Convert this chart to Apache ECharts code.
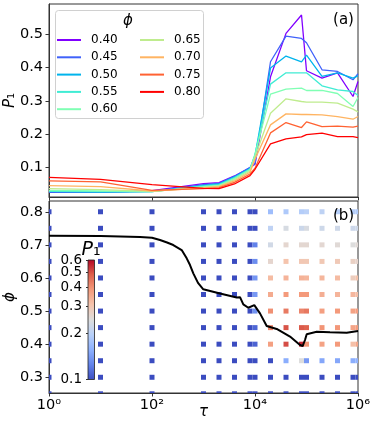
<!DOCTYPE html>
<html><head><meta charset="utf-8">
<script src="https://cdn.jsdelivr.net/npm/echarts@6/dist/echarts.min.js"></script>
<style>html,body{margin:0;padding:0;background:#fff}#c{width:374px;height:427px}</style>
</head><body><div id="c"></div>
<script>
// ---- data ----
const taus = [1, 10, 100, 1000, 2000, 4000, 8000, 1e4, 2e4, 4e4, 8e4, 1e5, 2e5, 4e5, 8e5, 1e6];
const phiLevels = ['0.40', '0.45', '0.50', '0.55', '0.60', '0.65', '0.70', '0.75', '0.80'];
const p040 = [0.026, 0.026, 0.031, 0.052, 0.055, 0.075, 0.100, 0.110, 0.372, 0.502, 0.557, 0.390, 0.368, 0.384, 0.313, 0.358];
const p045 = [0.027, 0.027, 0.029, 0.049, 0.053, 0.074, 0.100, 0.112, 0.417, 0.494, 0.487, 0.474, 0.393, 0.388, 0.363, 0.381];
const p050 = [0.028, 0.027, 0.028, 0.047, 0.051, 0.072, 0.098, 0.135, 0.398, 0.434, 0.417, 0.437, 0.373, 0.384, 0.368, 0.375];
const p055 = [0.029, 0.028, 0.028, 0.045, 0.049, 0.070, 0.096, 0.140, 0.350, 0.384, 0.384, 0.384, 0.345, 0.333, 0.328, 0.316];
const p060 = [0.032, 0.030, 0.028, 0.043, 0.047, 0.067, 0.094, 0.138, 0.320, 0.335, 0.338, 0.331, 0.331, 0.322, 0.283, 0.310];
const p065 = [0.037, 0.034, 0.029, 0.041, 0.045, 0.064, 0.090, 0.132, 0.263, 0.306, 0.298, 0.296, 0.296, 0.293, 0.275, 0.267];
const p070 = [0.046, 0.043, 0.030, 0.039, 0.043, 0.060, 0.086, 0.125, 0.228, 0.261, 0.259, 0.259, 0.258, 0.253, 0.245, 0.253];
const p075 = [0.060, 0.057, 0.032, 0.037, 0.040, 0.056, 0.081, 0.098, 0.204, 0.235, 0.220, 0.237, 0.223, 0.224, 0.221, 0.224];
const p080 = [0.071, 0.065, 0.049, 0.038, 0.037, 0.051, 0.076, 0.095, 0.171, 0.186, 0.192, 0.199, 0.203, 0.193, 0.193, 0.190];
// extra rows only in panel (b)
const p025 = [0.023, 0.023, 0.024, 0.030, 0.035, 0.040, 0.045, 0.050, 0.050, 0.055, 0.060, 0.060, 0.055, 0.055, 0.060, 0.060];
const p030 = [0.024, 0.024, 0.025, 0.035, 0.040, 0.050, 0.060, 0.065, 0.070, 0.075, 0.080, 0.080, 0.075, 0.075, 0.080, 0.080];
const p035 = [0.025, 0.025, 0.026, 0.040, 0.045, 0.060, 0.080, 0.090, 0.100, 0.155, 0.245, 0.140, 0.150, 0.150, 0.155, 0.160];
const gridPhis = [0.25, 0.30, 0.35, 0.40, 0.45, 0.50, 0.55, 0.60, 0.65, 0.70, 0.75, 0.80];
// boundary curve in panel (b)
const boundaryTau = [1, 10, 58.5, 100, 143, 196, 259, 377, 472, 547, 634, 782, 991, 2090, 4414, 5115, 5929, 7413, 9690, 12500, 16870, 26380, 47860, 74820, 84370, 93500, 100900, 157800, 285800, 603900, 1e6];
const boundaryPhi = [0.7275, 0.7265, 0.7235, 0.7215, 0.7146, 0.707, 0.6995, 0.6844, 0.6593, 0.639, 0.614, 0.585, 0.5657, 0.553, 0.541, 0.542, 0.520, 0.510, 0.518, 0.493, 0.455, 0.446, 0.423, 0.3975, 0.3945, 0.4126, 0.4298, 0.4377, 0.436, 0.4347, 0.4398];
// ticks
const xTickExp = [0, 2, 4, 6];
const xTickLabels = ['10⁰', '10²', '10⁴', '10⁶'];
const yTicksA = [0.1, 0.2, 0.3, 0.4, 0.5];
const yTicksB = [0.3, 0.4, 0.5, 0.6, 0.7, 0.8];
const cbTicks = [0.1, 0.2, 0.3, 0.4, 0.5, 0.6];

// ---- styling ----
const FONT = 'DejaVu Sans';
const rainbow = ['#8000ff', '#4062fa', '#00b4ec', '#40ecd4', '#80ffb4', '#bfec8e', '#ffb462', '#ff6232', '#ff0000'];
const coolwarm = ['#3b4cc0', '#6282ea', '#8db0fe', '#b8d0f9', '#dddddd', '#f5c4ad', '#f49a7b', '#de604d', '#b40426'];
const seriesVals = [p040, p045, p050, p055, p060, p065, p070, p075, p080];
const allRows = [p025, p030, p035].concat(seriesVals);
const L = Math.log10;
const cbMin = L(cbTicks[0]), cbMax = L(cbTicks[cbTicks.length - 1]);

const chart = echarts.init(document.getElementById('c'), null, {renderer: 'canvas'});

const series = [];
seriesVals.forEach((vals, i) => {
  series.push({
    type: 'line', name: phiLevels[i], xAxisIndex: 0, yAxisIndex: 0,
    data: taus.map((t, j) => [L(t), vals[j]]),
    symbol: 'none', color: rainbow[i], lineStyle: {width: 1.3, color: rainbow[i]}, z: 3
  });
});
const cells = [];
allRows.forEach((row, r) => {
  row.forEach((v, j) => {
    const lv = Math.min(cbMax, Math.max(cbMin, L(v)));
    cells.push([L(taus[j]), gridPhis[r], lv]);
  });
});
const cellSeriesIndex = series.length;
series.push({
  type: 'custom', xAxisIndex: 1, yAxisIndex: 1, data: cells, encode: {x: 0, y: 1}, z: 2,
  renderItem: function (params, api) {
    const c = api.coord([api.value(0), api.value(1)]);
    const s = 5;
    const cs = params.coordSys;
    const r = echarts.graphic.clipRectByRect({x: c[0] - s / 2, y: c[1] - s / 2, width: s, height: s},
      {x: cs.x, y: cs.y, width: cs.width, height: cs.height});
    if (!r) return;
    return {type: 'rect', shape: r, style: {fill: api.visual('color')}};
  }
});
series.push({
  type: 'line', xAxisIndex: 1, yAxisIndex: 1, data: boundaryTau.map((t, i) => [L(t), boundaryPhi[i]]),
  symbol: 'none', lineStyle: {color: '#000', width: 2}, z: 5, silent: true
});

const axisLineStyle = {show: true, lineStyle: {color: '#333', width: 1}};
const tickStyle = {show: true, length: 3.5, lineStyle: {color: '#333', width: 1}};
const labelStyle = {fontFamily: FONT, fontSize: 14.5, color: '#000'};

// colorbar axes: split tick labels over two axes so none is auto-hidden
function cbAxis(vals) {
  return {type: 'value', gridIndex: 2, min: cbMin, max: cbMax + 1e-6, position: 'left', axisLine: {show: false},
    axisTick: {show: true, length: 2, customValues: vals.map(L), lineStyle: {color: '#333'}},
    axisLabel: {customValues: vals.map(L), margin: 6, hideOverlap: false, showMinLabel: true, showMaxLabel: true,
      formatter: v => Math.pow(10, v).toFixed(1), fontFamily: FONT, fontSize: 13.5, color: '#000'},
    splitLine: {show: false}, z: 6};
}

const option = {
  animation: false,
  grid: [
    {left: 49, top: 4, width: 309, height: 193, show: true, borderColor: '#333', borderWidth: 1, backgroundColor: 'transparent', outerBoundsMode: 'none', containLabel: false},
    {left: 49, top: 201, width: 309, height: 192, show: true, borderColor: '#333', borderWidth: 1, backgroundColor: 'transparent', outerBoundsMode: 'none', containLabel: false},
    {left: 88, top: 260, width: 6.5, height: 119.5, show: true, borderColor: '#222', borderWidth: 0.8, outerBoundsMode: 'none', containLabel: false,
      backgroundColor: new echarts.graphic.LinearGradient(0, 1, 0, 0, coolwarm.map((c, i) => ({offset: i / (coolwarm.length - 1), color: c}))), z: 6}
  ],
  xAxis: [
    {type: 'value', gridIndex: 0, min: 0, max: 6, axisLine: axisLineStyle,
      axisTick: Object.assign({customValues: xTickExp}, tickStyle), axisLabel: {show: false, customValues: xTickExp}, splitLine: {show: false}},
    {type: 'value', gridIndex: 1, min: 0, max: 6, axisLine: axisLineStyle,
      axisTick: Object.assign({customValues: xTickExp}, tickStyle),
      axisLabel: Object.assign({customValues: xTickExp, margin: 5, hideOverlap: false, showMinLabel: true, showMaxLabel: true, formatter: v => xTickLabels[xTickExp.indexOf(Math.round(v))]}, labelStyle),
      splitLine: {show: false},
      name: 'τ', nameLocation: 'middle', nameGap: 12, nameMoveOverlap: false,
      nameTextStyle: {fontFamily: FONT, fontSize: 15, fontStyle: 'italic', color: '#000'}},
    {type: 'value', gridIndex: 2, min: 0, max: 1, show: false}
  ],
  yAxis: [
    {type: 'value', gridIndex: 0, min: 0.012, max: 0.59, axisLine: axisLineStyle,
      axisTick: Object.assign({customValues: yTicksA}, tickStyle),
      axisLabel: Object.assign({customValues: yTicksA, margin: 6, formatter: v => v.toFixed(1)}, labelStyle),
      splitLine: {show: false},
      name: '{i|P}{n|₁}', nameLocation: 'middle', nameGap: 31, nameMoveOverlap: false,
      nameTextStyle: {rich: {i: {fontFamily: FONT, fontSize: 15, fontStyle: 'italic', color: '#000'}, n: {fontFamily: FONT, fontSize: 15, color: '#000'}}}},
    {type: 'value', gridIndex: 1, min: 0.2525, max: 0.8325, axisLine: axisLineStyle,
      axisTick: Object.assign({customValues: yTicksB}, tickStyle),
      axisLabel: Object.assign({customValues: yTicksB, margin: 6, formatter: v => v.toFixed(1)}, labelStyle),
      splitLine: {show: false},
      name: 'ϕ', nameLocation: 'middle', nameGap: 31, nameMoveOverlap: false,
      nameTextStyle: {fontFamily: FONT, fontSize: 15, fontStyle: 'italic', color: '#000'}},
    cbAxis(cbTicks.filter((v, i) => i % 2 === 0)),
    cbAxis(cbTicks.filter((v, i) => i % 2 === 1))
  ],
  visualMap: {type: 'continuous', show: false, seriesIndex: cellSeriesIndex, dimension: 2, min: cbMin, max: cbMax, inRange: {color: coolwarm}},
  legend: [
    {data: phiLevels.slice(0, 5), orient: 'vertical', left: 57, top: 33, padding: 0, itemWidth: 24, itemHeight: 2, itemGap: 3.3, icon: 'rect',
      selectedMode: false, textStyle: {fontFamily: FONT, fontSize: 12, color: '#000', lineHeight: 14, padding: [0, 0, 0, 5]}, z: 10},
    {data: phiLevels.slice(5), orient: 'vertical', left: 140, top: 33, padding: 0, itemWidth: 24, itemHeight: 2, itemGap: 3.3, icon: 'rect',
      selectedMode: false, textStyle: {fontFamily: FONT, fontSize: 12, color: '#000', lineHeight: 14, padding: [0, 0, 0, 5]}, z: 10}
  ],
  graphic: [
    {type: 'rect', left: 55, top: 10, z: 8, shape: {width: 148, height: 108, r: 3}, style: {fill: 'rgba(255,255,255,0.8)', stroke: '#d0d0d0', lineWidth: 1}},
    {type: 'text', x: 128, y: 21, z: 9, style: {text: 'ϕ', font: 'italic 15px "DejaVu Sans"', fill: '#000', align: 'center', verticalAlign: 'middle'}},
    {type: 'text', x: 343.5, y: 20, z: 9, style: {text: '(a)', font: '15px "DejaVu Sans"', fill: '#000', align: 'center', verticalAlign: 'middle'}},
    {type: 'text', x: 343.5, y: 216, z: 9, style: {text: '(b)', font: '15px "DejaVu Sans"', fill: '#000', align: 'center', verticalAlign: 'middle'}},
    {type: 'text', x: 91, y: 250, z: 9, style: {text: '{i|P}{n|₁}', align: 'center', verticalAlign: 'middle',
      rich: {i: {fontFamily: FONT, fontSize: 19, fontStyle: 'italic', fill: '#000'}, n: {fontFamily: FONT, fontSize: 19, fill: '#000'}}}}
  ],
  series: series
};
chart.setOption(option);
</script>
</body></html>
